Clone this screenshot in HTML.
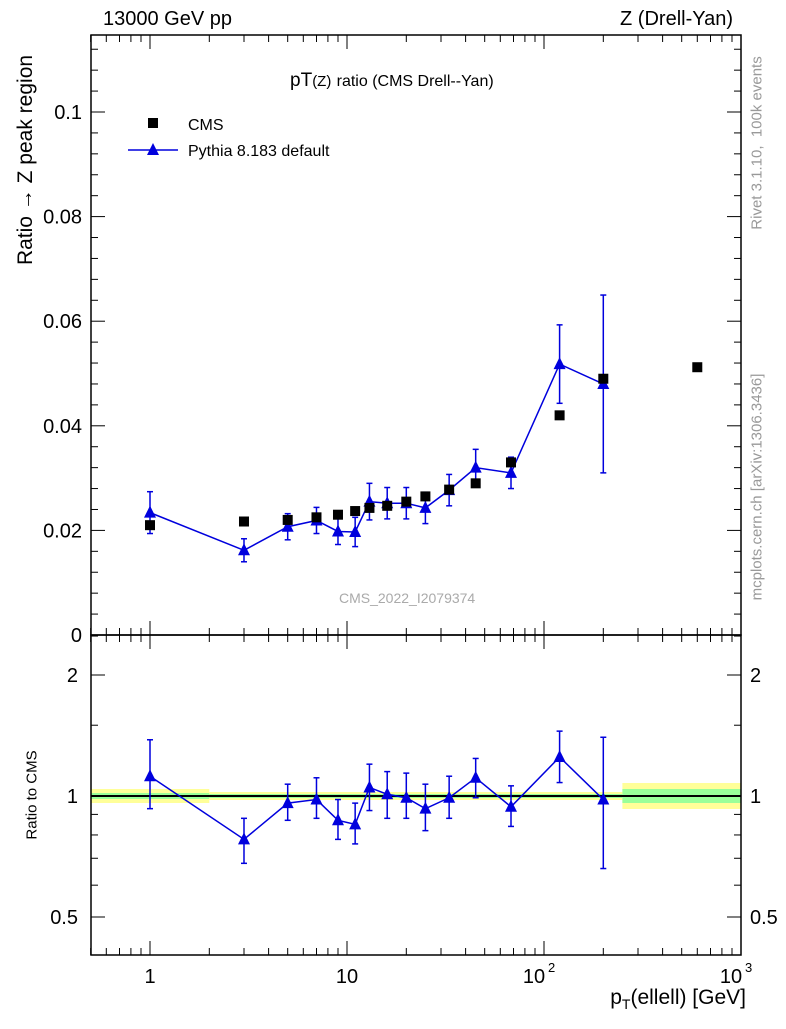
<!DOCTYPE html>
<html><head><meta charset="utf-8"><style>
body{margin:0;background:#fff;font-family:"Liberation Sans",sans-serif;}
svg text{font-family:"Liberation Sans",sans-serif;}
</style></head><body>
<svg id="c" width="786" height="1024" xmlns="http://www.w3.org/2000/svg">
<g id="g"></g>
</svg>
<script>
const xs=[1,3,5,7,9,11,13,16,20,25,33,45,68,120,200];
const cmsX=[1,3,5,7,9,11,13,16,20,25,33,45,68,120,200,600];
const cmsY=[0.021,0.0217,0.022,0.0225,0.023,0.0237,0.0243,0.0247,0.0255,0.0265,0.0278,0.029,0.033,0.042,0.049,0.0512];
const pyY=[0.0234,0.0162,0.0207,0.0219,0.0198,0.0197,0.0255,0.0252,0.0252,0.0243,0.0277,0.032,0.031,0.0518,0.048];
const pyErr=[0.004,0.0022,0.0025,0.0025,0.0025,0.0028,0.0035,0.003,0.003,0.003,0.003,0.0035,0.003,0.0075,0.017];
const ratio=[1.12,0.78,0.96,0.98,0.87,0.85,1.05,1.01,0.99,0.93,0.99,1.11,0.94,1.25,0.98];
const ratioHi=[1.38,0.88,1.07,1.11,0.98,0.96,1.2,1.15,1.14,1.07,1.12,1.24,1.06,1.45,1.4];
const ratioLo=[0.93,0.68,0.87,0.88,0.78,0.76,0.92,0.88,0.88,0.82,0.88,0.99,0.84,1.08,0.66];
const yTicks=[0,0.02,0.04,0.06,0.08,0.1];
const yTickLabels=["0","0.02","0.04","0.06","0.08","0.1"];
const rTicks=[0.5,1,2];

const L=91,R=741,T=35,B=635,RB=955;
const X=v=>150+197*Math.log10(v);
const Y=v=>635-v/0.02*104.6;
const RY=v=>796-121*Math.log2(v);
const g=document.getElementById('g');
const NS='http://www.w3.org/2000/svg';
function el(t,a,txt){const e=document.createElementNS(NS,t);for(const k in a)e.setAttribute(k,a[k]);if(txt!==undefined)e.textContent=txt;g.appendChild(e);return e;}

// ratio bands
const bands=[[0.5,2,7,3],[2,250,4,2],[250,1000,13,7]];
for(const b of bands){
 let e=el('rect',{x:X(b[0]),y:796-b[2],width:X(b[1])-X(b[0]),height:2*b[2],fill:'#ffff99'});
 
 e=el('rect',{x:X(b[0]),y:796-b[3],width:X(b[1])-X(b[0]),height:2*b[3],fill:'#99ff99'});
 
}
let ln=el('line',{x1:L,x2:R,y1:796,y2:796,stroke:'#000','stroke-width':2});


// frames
let f=el('rect',{x:L,y:T,width:R-L,height:B-T,fill:'none',stroke:'#000','stroke-width':1.5});

f=el('rect',{x:L,y:B,width:R-L,height:RB-B,fill:'none',stroke:'#000','stroke-width':1.5});


// x ticks (log)
for(let d=-1;d<3;d++){for(let m=1;m<10;m++){const v=m*Math.pow(10,d);if(v<0.5||v>1000)continue;const x=X(v);const big=m===1;const len=big?14:7;
 for(const [yt,yb] of [[T,B],[B,RB]]){el('line',{x1:x,x2:x,y1:yt,y2:yt+len,stroke:'#000'});el('line',{x1:x,x2:x,y1:yb,y2:yb-len,stroke:'#000'});}}}
const xl=[[1,'1'],[10,'10']];
for(const [v,s] of xl){const t=el('text',{x:X(v),y:983,'font-size':20,'text-anchor':'middle'},s);}
let t=el('text',{x:X(100)-10,y:983,'font-size':20,'text-anchor':'middle'},'10');
el('text',{x:X(100)+4,y:972,'font-size':13},'2');
t=el('text',{x:X(1000)-10,y:983,'font-size':20,'text-anchor':'middle'},'10');
el('text',{x:X(1000)+4,y:972,'font-size':13},'3');

// y ticks main
yTicks.forEach((v,i)=>{const y=Y(v);el('line',{x1:L,x2:L+14,y1:y,y2:y,stroke:'#000'});el('line',{x1:R,x2:R-14,y1:y,y2:y,stroke:'#000'});
 const tt=el('text',{x:82,y:y+7,'font-size':20,'text-anchor':'end'},yTickLabels[i]);
 if(i<yTicks.length-1)for(let k=1;k<5;k++){const yy=Y(v+0.004*k);if(yy<T)continue;el('line',{x1:L,x2:L+7,y1:yy,y2:yy,stroke:'#000'});el('line',{x1:R,x2:R-7,y1:yy,y2:yy,stroke:'#000'});}});
for(const k of [1,2,3]){const yy=Y(0.1+0.004*k);el('line',{x1:L,x2:L+7,y1:yy,y2:yy,stroke:'#000'});el('line',{x1:R,x2:R-7,y1:yy,y2:yy,stroke:'#000'});}
// ratio ticks
rTicks.forEach(v=>{const y=RY(v);el('line',{x1:L,x2:L+14,y1:y,y2:y,stroke:'#000'});el('line',{x1:R,x2:R-14,y1:y,y2:y,stroke:'#000'});
 let a=el('text',{x:78,y:y+7,'font-size':20,'text-anchor':'end'},String(v));
 a=el('text',{x:750,y:y+7,'font-size':20},String(v));});
for(const v of [0.6,0.7,0.8,0.9,1.5,2.5]){const y=RY(v);if(y<B)continue;el('line',{x1:L,x2:L+7,y1:y,y2:y,stroke:'#000'});el('line',{x1:R,x2:R-7,y1:y,y2:y,stroke:'#000'});}

// pythia main
let pts=xs.map((v,i)=>X(v)+','+Y(pyY[i])).join(' ');
let pl=el('polyline',{points:pts,fill:'none',stroke:'#0000dd','stroke-width':1.5});
function tri(x,y,name){const p=el('polygon',{points:`${x},${y-7} ${x-6},${y+5} ${x+6},${y+5}`,fill:'#0000dd'});}
xs.forEach((v,i)=>{const x=X(v);const e1=Y(pyY[i]+pyErr[i]),e2=Y(pyY[i]-pyErr[i]);
 el('line',{x1:x,x2:x,y1:e1,y2:e2,stroke:'#0000dd','stroke-width':1.5});el('line',{x1:x-3,x2:x+3,y1:e1,y2:e1,stroke:'#0000dd','stroke-width':1.5});el('line',{x1:x-3,x2:x+3,y1:e2,y2:e2,stroke:'#0000dd','stroke-width':1.5});
 tri(x,Y(pyY[i]),'pythia-point');});
cmsX.forEach((v,i)=>{const r=el('rect',{x:X(v)-5,y:Y(cmsY[i])-5,width:10,height:10,fill:'#000'});});

// ratio
pts=xs.map((v,i)=>X(v)+','+RY(ratio[i])).join(' ');
pl=el('polyline',{points:pts,fill:'none',stroke:'#0000dd','stroke-width':1.5});
xs.forEach((v,i)=>{const x=X(v);const e1=RY(ratioHi[i]),e2=RY(ratioLo[i]);
 el('line',{x1:x,x2:x,y1:e1,y2:e2,stroke:'#0000dd','stroke-width':1.5});el('line',{x1:x-3,x2:x+3,y1:e1,y2:e1,stroke:'#0000dd','stroke-width':1.5});el('line',{x1:x-3,x2:x+3,y1:e2,y2:e2,stroke:'#0000dd','stroke-width':1.5});
 tri(x,RY(ratio[i]),'ratio-point');});

// legend
let r=el('rect',{x:148,y:118,width:10,height:10,fill:'#000'});
t=el('text',{x:188,y:130,'font-size':16},'CMS');
el('line',{x1:128,x2:178,y1:150,y2:150,stroke:'#0000dd','stroke-width':1.5});tri(153,150,'legend-pythia-marker');
t=el('text',{x:188,y:156,'font-size':16},'Pythia 8.183 default');
</script>
<div style="position:absolute;left:0;top:0;width:786px;height:1024px;pointer-events:none">
<div style="position:absolute;left:103px;top:8px;font-size:20px">13000 GeV pp</div>
<div style="position:absolute;right:53px;top:8px;font-size:20px">Z (Drell-Yan)</div>
<div style="position:absolute;left:290px;top:70px;font-size:19px">pT<span style="font-size:15px">(Z)</span> <span style="font-size:16px">ratio (CMS Drell--Yan)</span></div>
<div style="position:absolute;left:26px;top:160px;font-size:21px;transform:translate(-50%,-50%) rotate(-90deg);transform-origin:center;white-space:nowrap;position:absolute;left:26px;top:160px">Ratio → Z peak region</div>
<div style="position:absolute;left:32px;top:795px;font-size:15px;transform:translate(-50%,-50%) rotate(-90deg);white-space:nowrap">Ratio to CMS</div>
<div style="position:absolute;left:757px;top:143px;font-size:15px;color:#999;transform:translate(-50%,-50%) rotate(-90deg);white-space:nowrap">Rivet 3.1.10, &nbsp;100k events</div>
<div style="position:absolute;left:757px;top:487px;font-size:15px;color:#999;transform:translate(-50%,-50%) rotate(-90deg);white-space:nowrap">mcplots.cern.ch [arXiv:1306.3436]</div>
<div style="position:absolute;left:339px;top:590px;font-size:14px;color:#aaa">CMS_2022_I2079374</div>
<div style="position:absolute;right:40px;top:986px;font-size:21px">p<sub style="font-size:14px">T</sub>(ellell) [GeV]</div>
</div>
</body></html>
